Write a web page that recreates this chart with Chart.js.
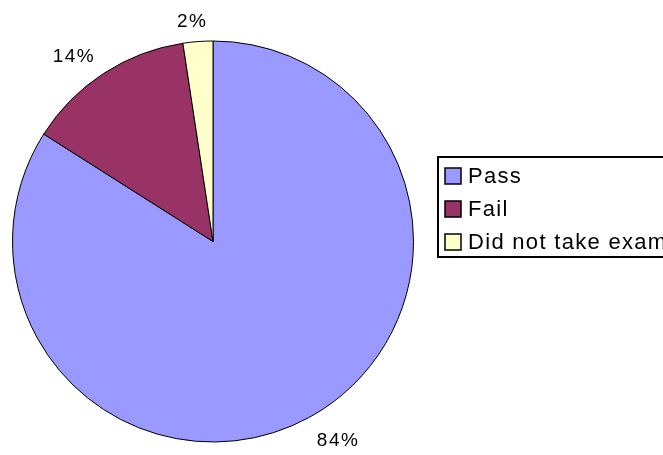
<!DOCTYPE html>
<html>
<head>
<meta charset="utf-8">
<script src="https://cdn.jsdelivr.net/npm/chart.js@4.4.1/dist/chart.umd.min.js"></script>
<style>
    body { margin: 0; background: #ffffff; }
    #wrap { width: 663px; height: 455px; overflow: hidden; }
</style>
</head>
<body>
<div id="wrap"><canvas id="pieChart" width="663" height="455"></canvas></div>
<script>
const categories = ['Pass', 'Fail', 'Did not take exam'];
const shares = [84, 13.6, 2.4];
const sliceColors = ['#9999ff', '#993366', '#ffffcc'];

const FONT = "'Liberation Sans', Arial, sans-serif";

// percentage labels outside the slices, Excel style
const outsideLabels = {
    id: 'outsideLabels',
    afterDatasetsDraw(chart) {
        const ctx = chart.ctx;
        const meta = chart.getDatasetMeta(0);
        const data = chart.data.datasets[0].data;
        const total = data.reduce((a, b) => a + b, 0);
        ctx.save();
        ctx.font = `19px ${FONT}`;
        ctx.letterSpacing = '1.5px';
        ctx.fillStyle = '#000000';
        ctx.textAlign = 'center';
        ctx.textBaseline = 'middle';
        meta.data.forEach((arc, i) => {
            const mid = (arc.startAngle + arc.endAngle) / 2;
            const r = arc.outerRadius + 15;
            const dx = Math.cos(mid), dy = Math.sin(mid);
            const text = Math.round(data[i] / total * 100) + '%';
            const w = ctx.measureText(text).width;
            const h = 15;
            const ax = arc.x + dx * r;
            const ay = arc.y + dy * r;
            const cx = ax + Math.sign(dx) * w / 2 * Math.min(1, Math.abs(dx) * 4);
            const cy = ay + Math.sign(dy) * h / 2 + 3;
            ctx.fillText(text, cx, cy);
        });
        ctx.restore();
    }
};

// boxed legend to the right of the pie
const boxLegend = {
    id: 'boxLegend',
    afterDraw(chart) {
        const ctx = chart.ctx;
        const area = chart.chartArea;
        const left = area.right + 24;
        const top = 157;
        const rowH = 33;
        ctx.save();
        ctx.lineWidth = 2;
        ctx.strokeStyle = '#000000';
        ctx.strokeRect(left, top, 300, 100);
        ctx.font = `22px ${FONT}`;
        ctx.letterSpacing = '1.3px';
        ctx.textBaseline = 'middle';
        categories.forEach((name, i) => {
            const cy = top + 19 + i * rowH;
            ctx.fillStyle = sliceColors[i];
            ctx.fillRect(left + 7, cy - 8, 16, 16);
            ctx.lineWidth = 1.5;
            ctx.strokeRect(left + 7, cy - 8, 16, 16);
            ctx.fillStyle = '#000000';
            ctx.fillText(name, left + 30, cy + 1);
        });
        ctx.restore();
    }
};

const ctx = document.getElementById('pieChart').getContext('2d');
const pieChart = new Chart(ctx, {
    type: 'pie',
    data: {
        labels: categories,
        datasets: [{
            data: shares,
            backgroundColor: sliceColors,
            borderColor: '#000000',
            borderWidth: 1
        }]
    },
    options: {
        responsive: false,
        animation: false,
        layout: {
            padding: { left: 12, right: 249, top: 40, bottom: 12 }
        },
        plugins: {
            legend: { display: false },
            tooltip: { enabled: false }
        }
    },
    plugins: [outsideLabels, boxLegend]
});
</script>
</body>
</html>
